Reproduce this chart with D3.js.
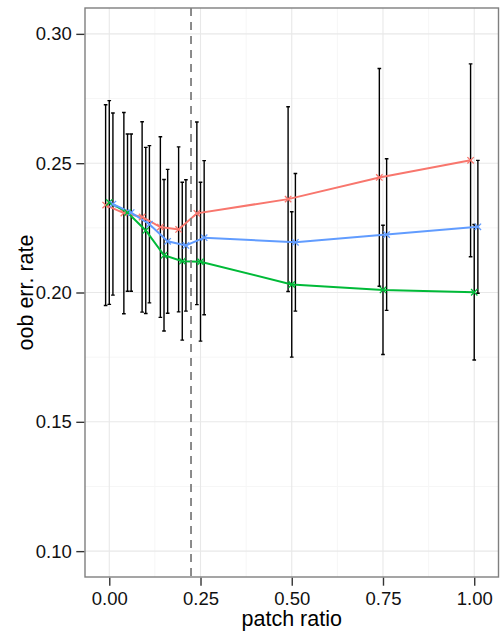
<!DOCTYPE html>
<html>
<head>
<meta charset="utf-8">
<script src="https://cdn.jsdelivr.net/npm/d3@7/dist/d3.min.js"></script>
<style>
  html, body { margin: 0; padding: 0; background: #fff; }
  svg { display: block; }
  text { font-family: "Liberation Sans", Arial, Helvetica, sans-serif; }
</style>
</head>
<body>
<svg id="chart" width="500" height="634"></svg>
<script>
// ---- data ----
const patchRatio = [0, 0.05, 0.1, 0.15, 0.2, 0.25, 0.5, 0.75, 1.0];
const seriesNames = ["A", "B", "C"];
const seriesColors = ["#F8766D", "#00BA38", "#619CFF"];
const meanA = [0.2338, 0.2307, 0.2292, 0.2253, 0.2244, 0.2306, 0.2361, 0.2445, 0.2511];
const sdA   = [0.0388, 0.0389, 0.0368, 0.0349, 0.0319, 0.0353, 0.0357, 0.0421, 0.0373];
const meanB = [0.2348, 0.2309, 0.2240, 0.2144, 0.2121, 0.2119, 0.2031, 0.2010, 0.2001];
const sdB   = [0.0394, 0.0304, 0.0321, 0.0293, 0.0305, 0.0307, 0.0281, 0.0250, 0.0262];
const meanC = [0.2342, 0.2309, 0.2264, 0.2198, 0.2182, 0.2212, 0.2194, 0.2224, 0.2254];
const sdC   = [0.0352, 0.0304, 0.0304, 0.0278, 0.0254, 0.0298, 0.0266, 0.0293, 0.0257];
const xTicks = [0, 0.25, 0.5, 0.75, 1.0];
const yTicks = [0.10, 0.15, 0.20, 0.25, 0.30];
const xMinor = [0.125, 0.375, 0.625, 0.875];
const yMinor = [0.125, 0.175, 0.225, 0.275];
const vlineX = 0.224;
const dodgeOffsets = [-0.01, 0, 0.01];
const capHalf = 0.005;

const means = [meanA, meanB, meanC];
const sds = [sdA, sdB, sdC];

// ---- layout ----
const svg = d3.select("#chart");
const L = 85, R = 498.5, T = 8, B = 577;
const x = d3.scaleLinear().domain([-0.0665, 1.0665]).range([L, R]);
const y = d3.scaleLinear().domain([0.09, 0.31]).range([B, T]);

// panel background
svg.append("rect").attr("x", L).attr("y", T).attr("width", R - L).attr("height", B - T).attr("fill", "#fff");

// minor grid
const g = svg.append("g");
g.selectAll(".xm").data(xMinor).join("line")
  .attr("x1", d => x(d)).attr("x2", d => x(d)).attr("y1", T).attr("y2", B)
  .attr("stroke", "#f6f6f6").attr("stroke-width", 1);
g.selectAll(".ym").data(yMinor).join("line")
  .attr("y1", d => y(d)).attr("y2", d => y(d)).attr("x1", L).attr("x2", R)
  .attr("stroke", "#f6f6f6").attr("stroke-width", 1);
// major grid
g.selectAll(".xM").data(xTicks).join("line")
  .attr("x1", d => x(d)).attr("x2", d => x(d)).attr("y1", T).attr("y2", B)
  .attr("stroke", "#e8e8e8").attr("stroke-width", 1.1);
g.selectAll(".yM").data(yTicks).join("line")
  .attr("y1", d => y(d)).attr("y2", d => y(d)).attr("x1", L).attr("x2", R)
  .attr("stroke", "#e8e8e8").attr("stroke-width", 1.1);

// build records
const recs = [];
seriesNames.forEach((s, i) => {
  patchRatio.forEach((p, j) => {
    recs.push({ s: i, x: p + dodgeOffsets[i], m: means[i][j], sd: sds[i][j] });
  });
});

// error bars
const eb = svg.append("g").attr("stroke", "#000").attr("stroke-width", 1.4).attr("fill", "none");
eb.selectAll("path").data(recs).join("path")
  .attr("d", d => {
    const lo = y(d.m - d.sd), hi = y(d.m + d.sd);
    const xl = x(d.x - capHalf), xr = x(d.x + capHalf), xc = x(d.x);
    return `M${xl},${hi}H${xr}M${xc},${hi}V${lo}M${xl},${lo}H${xr}`;
  });

// lines
const line = d3.line().x(d => x(d[0])).y(d => y(d[1]));
seriesNames.forEach((s, i) => {
  const pts = patchRatio.map((p, j) => [p + dodgeOffsets[i], means[i][j]]);
  svg.append("path").datum(pts).attr("d", line)
    .attr("fill", "none").attr("stroke", seriesColors[i]).attr("stroke-width", 2);
});

// points (x shapes)
const ps = 3.2;
svg.append("g").selectAll("path").data(recs).join("path")
  .attr("d", d => {
    const cx = x(d.x), cy = y(d.m);
    return `M${cx - ps},${cy - ps}L${cx + ps},${cy + ps}M${cx - ps},${cy + ps}L${cx + ps},${cy - ps}`;
  })
  .attr("stroke", d => seriesColors[d.s]).attr("stroke-width", 1.3).attr("fill", "none");

// dashed vline
svg.append("line").attr("x1", x(vlineX)).attr("x2", x(vlineX)).attr("y1", T).attr("y2", B)
  .attr("stroke", "#7f7f7f").attr("stroke-width", 1.8).attr("stroke-dasharray", "8,6");

// panel border
svg.append("rect").attr("x", L).attr("y", T).attr("width", R - L).attr("height", B - T)
  .attr("fill", "none").attr("stroke", "#7f7f7f").attr("stroke-width", 1.4);

// axes
const yAxis = d3.axisLeft(y).tickValues(yTicks).tickFormat(d3.format(".2f")).tickSize(8).tickPadding(4.5);
const ya = svg.append("g").attr("transform", `translate(${L - 0.7},0)`).call(yAxis);
ya.select(".domain").remove();
ya.selectAll(".tick line").attr("stroke", "#333").attr("stroke-width", 1.4);
ya.selectAll(".tick text").attr("fill", "#111").attr("font-size", "18.5px")
  .attr("font-family", "'Liberation Sans', Arial, sans-serif");

const xAxis = d3.axisBottom(x).tickValues(xTicks).tickFormat(d3.format(".2f")).tickSize(8).tickPadding(6);
const xa = svg.append("g").attr("transform", `translate(0,${B + 0.7})`).call(xAxis);
xa.select(".domain").remove();
xa.selectAll(".tick line").attr("stroke", "#333").attr("stroke-width", 1.4);
xa.selectAll(".tick text").attr("fill", "#111").attr("font-size", "18.5px")
  .attr("font-family", "'Liberation Sans', Arial, sans-serif");

// titles
svg.append("text").attr("x", (L + R) / 2).attr("y", 626).attr("text-anchor", "middle")
  .attr("font-size", "21.5px").attr("fill", "#000").text("patch ratio");
svg.append("text").attr("transform", `translate(33,${(T + B) / 2}) rotate(-90)`)
  .attr("text-anchor", "middle").attr("font-size", "21.5px").attr("fill", "#000").text("oob err. rate");
</script>
</body>
</html>
